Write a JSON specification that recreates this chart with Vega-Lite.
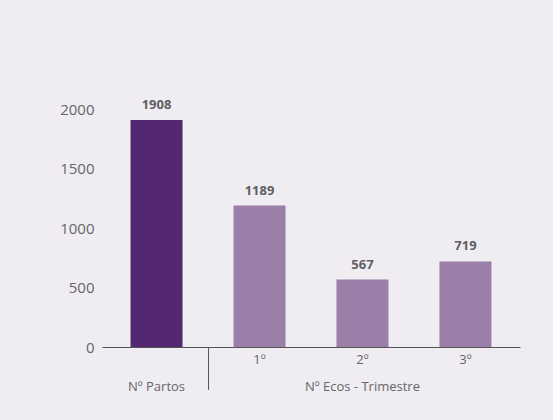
{
  "$schema": "https://vega.github.io/schema/vega-lite/v6.json",
  "autosize": {"type": "none"},
  "width": 418,
  "height": 238,
  "padding": {"left": 102, "top": 109, "right": 33, "bottom": 73},
  "background": "#efedf2",
  "config": {
    "view": {"stroke": null},
    "font": "Open Sans"
  },
  "data": {
    "values": [
      {"cat": "A", "value": 1908, "group": "partos"},
      {"cat": "B", "value": 1189, "group": "ecos"},
      {"cat": "C", "value": 567, "group": "ecos"},
      {"cat": "D", "value": 719, "group": "ecos"}
    ]
  },
  "encoding": {
    "x": {
      "field": "cat",
      "type": "nominal",
      "sort": null,
      "scale": {"paddingInner": 0.495, "paddingOuter": 0.277},
      "axis": {
        "title": null,
        "labelAngle": 0,
        "labelExpr": "datum.value == 'A' ? ['', 'Nº Partos'] : datum.value == 'B' ? '1º' : datum.value == 'C' ? ['2º', 'Nº Ecos - Trimestre'] : '3º'",
        "labelBaseline": "top",
        "labelLineHeight": 27,
        "labelFontSize": 13,
        "labelColor": "#666666",
        "labelPadding": 6,
        "labelFont": "Open Sans",
        "domainColor": "#555555",
        "domainWidth": 1,
        "ticks": false
      }
    },
    "y": {
      "field": "value",
      "type": "quantitative",
      "scale": {"domain": [0, 2000], "nice": false},
      "axis": {
        "title": null,
        "values": [0, 500, 1000, 1500, 2000],
        "format": "d",
        "grid": false,
        "domain": false,
        "ticks": false,
        "labelFontSize": 15,
        "labelColor": "#666666",
        "labelPadding": 8,
        "labelFont": "Open Sans"
      }
    }
  },
  "layer": [
    {
      "mark": {"type": "bar"},
      "encoding": {
        "color": {
          "field": "group",
          "type": "nominal",
          "scale": {"domain": ["partos", "ecos"], "range": ["#532870", "#9a7fa8"]},
          "legend": null
        }
      }
    },
    {
      "mark": {"type": "text", "baseline": "alphabetic", "dy": -11, "fontSize": 13, "fontWeight": "bold", "color": "#5f5f5f", "font": "Open Sans"},
      "encoding": {
        "text": {"field": "value", "type": "quantitative", "format": "d"}
      }
    },
    {
      "transform": [{"filter": "datum.cat === 'A'"}],
      "mark": {"type": "rule", "color": "#555555", "strokeWidth": 1},
      "encoding": {
        "x": {"field": "cat", "type": "nominal", "bandPosition": 1.5},
        "y": {"datum": 0},
        "y2": {"datum": -361}
      }
    }
  ]
}
